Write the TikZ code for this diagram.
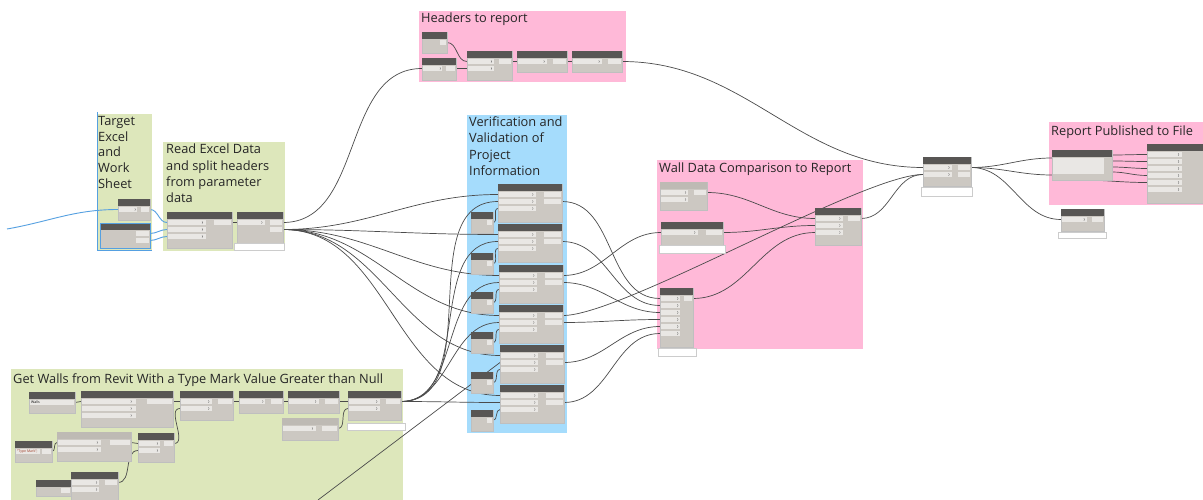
\documentclass[tikz,border=0pt]{standalone}
\usepackage{fontspec}
\setmainfont{Open Sans}
\usetikzlibrary{calc}
\definecolor{gpink}{RGB}{255,185,216}
\definecolor{ggreen}{RGB}{221,231,187}
\definecolor{gblue}{RGB}{165,220,252}
\definecolor{nbody}{RGB}{204,200,194}
\definecolor{nhead}{RGB}{88,86,84}
\definecolor{nlight}{RGB}{190,186,180}
\definecolor{nport}{RGB}{233,231,228}
\definecolor{wirec}{RGB}{75,75,75}
\definecolor{selblue}{RGB}{85,160,225}
\definecolor{codered}{RGB}{160,60,40}
\tikzset{
  title/.style={anchor=base west, inner sep=0pt, font=\fontsize{12.8}{14}\selectfont, text=black!85},
  wire/.style={draw=wirec, line width=0.7pt},
  bwire/.style={draw=selblue, line width=0.9pt},
  prev/.style={draw=black!20, fill=white, line width=0.3pt, inner sep=0pt, anchor=north west},
  nbox/.style={draw=black!25, fill=nbody, line width=0.3pt, inner sep=0pt, outer sep=0pt, anchor=north west},
  tiny/.style={anchor=base west, inner sep=0pt, font=\fontsize{3.5}{4}\selectfont}
}
\newif\ifdyndraw
% \dyn[header colour]{name}{x}{y}{w}{h}{inputs}{outputs}
\newcommand{\dyn}[8][nhead]{%
  \ifdyndraw
  \node[nbox, minimum width=#5pt, minimum height=#6pt] (#2) at (#3,#4) {};
  \fill[#1] (#3,#4) rectangle ({#3+#5},{#4+7});
  \fi
  \ifnum#7>0
  \foreach \i in {1,...,#7}{
    \ifdyndraw
    \fill[nport] ({#3+0.7},{#4+7.6+7*(\i-1)}) rectangle ({#3+0.6*#5},{#4+13.4+7*(\i-1)});
    \draw[black!55, line width=0.3pt] ({#3+0.55*#5-0.8},{#4+9.3+7*(\i-1)}) -- ({#3+0.55*#5},{#4+10.5+7*(\i-1)}) -- ({#3+0.55*#5-0.8},{#4+11.7+7*(\i-1)});
    \fi
    \coordinate (#2-i\i) at (#3,{#4+10.5+7*(\i-1)});
  }
  \fi
  \ifnum#8>0
  \foreach \i in {1,...,#8}{
    \ifdyndraw
    \fill[nport] ({#3+0.72*#5},{#4+7.6+7*(\i-1)}) rectangle ({#3+#5-0.7},{#4+13.4+7*(\i-1)});
    \fi
    \coordinate (#2-o\i) at ({#3+#5},{#4+10.5+7*(\i-1)});
  }
  \fi
}
\newcommand{\allnodes}{%
\dyn{N1}{118}{199}{32}{21}{1}{1}
\dyn{N2}{100}{223}{50}{25}{0}{2}
\dyn{N3}{167}{212}{65}{36}{3}{1}
\dyn{N4}{237}{212}{46}{31}{1}{2}
\dyn{H1}{422}{32}{25}{21}{0}{1}
\dyn{H2}{422}{58}{34}{22}{1}{1}
\dyn{H3}{467}{51}{45}{29}{2}{1}
\dyn{H4}{517}{51}{50}{21}{1}{1}
\dyn{H5}{572}{51}{50}{21}{1}{1}
\dyn{V1}{498}{184}{64}{38}{3}{2}
\dyn{V2}{498}{224}{64}{38}{3}{2}
\dyn{V3}{499}{265}{64}{38}{3}{2}
\dyn{V4}{499}{305}{64}{38}{3}{2}
\dyn{V5}{500}{345}{64}{38}{3}{2}
\dyn{V6}{500}{385}{64}{38}{3}{2}
\dyn{S1}{471}{212}{22}{21}{0}{1}
\dyn{S2}{471}{253}{22}{21}{0}{1}
\dyn{S3}{471}{292}{22}{21}{0}{1}
\dyn{S4}{471}{332}{22}{21}{0}{1}
\dyn{S5}{471}{372}{22}{21}{0}{1}
\dyn{S6}{471}{410}{22}{21}{0}{1}
\dyn[nlight]{W1}{660}{182}{47}{28}{2}{1}
\dyn{W2}{661}{222}{62}{23}{1}{1}
\dyn{W3}{815}{208}{46}{37}{3}{1}
\dyn{W4}{660}{288}{33}{59}{6}{1}
\dyn{R1}{923}{157}{48}{29}{2}{2}
\dyn{R2}{1052}{150}{60}{30}{0}{0}
\dyn{R3}{1147}{144}{58}{59}{6}{0}
\dyn{R4}{1061}{209}{43}{22}{1}{1}
\dyn{G1}{29}{392}{46}{21}{0}{1}
\dyn{G2}{81}{391}{92}{36}{3}{1}
\dyn{G3}{180}{391}{53}{29}{2}{1}
\dyn{G4}{239}{391}{44}{22}{1}{1}
\dyn{G5}{288}{391}{51}{22}{1}{1}
\dyn{G6}{348}{391}{53}{29}{2}{1}
\dyn[nlight]{G7}{282}{418}{56}{22}{1}{1}
\dyn{G8}{15}{441}{37}{21}{0}{1}
\dyn[nlight]{G9}{57}{432}{74}{29}{2}{1}
\dyn{G10}{138}{433}{36}{29}{2}{1}
\dyn{G11}{36}{480}{35}{16}{0}{1}
\dyn{G12}{71}{472}{47}{30}{2}{1}
}
\begin{document}
\begin{tikzpicture}[x=1pt,y=-1pt]
\useasboundingbox (0,0) rectangle (1203,500);
\fill[white] (0,0) rectangle (1203,500);
% ---------- groups ----------
\fill[gpink] (419,11) rectangle (626,82);
\fill[ggreen] (97,114) rectangle (152,250);
\draw[selblue, line width=0.8pt] (97,112) -- (97,250) -- (152,250);
\fill[ggreen] (163,142) rectangle (285,251);
\fill[gblue] (467,115) rectangle (567,433);
\fill[gpink] (657,160) rectangle (863,349);
\fill[gpink] (1049,122) rectangle (1203,205);
\fill[ggreen] (11,369) rectangle (403,500);
% ---------- titles ----------
\node[title] (tH) at (421,23) {Headers to report};
\node[title] (tT1) at (98,126) {Target};
\node[title] (tT2) at (98,142) {Excel};
\node[title] (tT3) at (98,157) {and};
\node[title] (tT4) at (98,173) {Work};
\node[title] (tT5) at (98,189) {Sheet};
\node[title] (tR1) at (166,154) {Read Excel Data};
\node[title] (tR2) at (166,171) {and split headers};
\node[title] (tR3) at (166,187) {from parameter};
\node[title] (tR4) at (166,203) {data};
\node[title] (tV1) at (469,127) {Verification and};
\node[title] (tV2) at (469,143) {Validation of};
\node[title] (tV3) at (469,160) {Project};
\node[title] (tV4) at (469,176) {Information};
\node[title] (tW) at (659,173) {Wall Data Comparison to Report};
\node[title] (tP) at (1051,136) {Report Published to File};
\node[title] (tG) at (13,383) {Get Walls from Revit With a Type Mark Value Greater than Null};
% ---------- port coordinates (first pass, nothing drawn) ----------
\dyndrawfalse
\allnodes
\coordinate (R2-a) at (1052,158);
\coordinate (R2-b) at (1052,175);
\coordinate (R2-o1) at (1112,155);
\coordinate (R2-o2) at (1112,161);
\coordinate (R2-o3) at (1112,167);
\coordinate (R2-o4) at (1112,172);
\coordinate (R2-o5) at (1080,180);
\coordinate (lin) at (7,229);
\coordinate (offb) at (318,500);
% ---------- wires ----------
\draw[bwire] (lin) to[out=10,in=180] (N1-i1);
\draw[bwire] (N1-o1) to[out=0,in=180] (N3-i1);
\draw[bwire] (N2-o1) to[out=0,in=180] (N3-i2);
\draw[bwire] (N2-o2) to[out=0,in=180] (N3-i3);
\draw[wire] (N3-o1) to[out=0,in=180] (N4-i1);
\draw[wire] (N4-o1) to[out=0,in=180] (H2-i1);
\foreach \k in {1,...,6}{
  \draw[wire] (N4-o2) to[out=0,in=180] (V\k-i1);
  \draw[wire] (S\k-o1) to[out=0,in=180] (V\k-i3);
}
\foreach \k in {1,2,3,4,6}{
  \draw[wire] (G6-o1) to[out=0,in=180] (V\k-i2);
}
\draw[wire] (offb) -- (V5-i2);
\draw[wire] (H1-o1) to[out=0,in=180] (H3-i1);
\draw[wire] (H2-o1) to[out=0,in=180] (H3-i2);
\draw[wire] (H3-o1) to[out=0,in=180] (H4-i1);
\draw[wire] (H4-o1) to[out=0,in=180] (H5-i1);
\draw[wire] (H5-o1) to[out=0,in=180] (R1-i1);
\draw[wire] (V1-o2) to[out=0,in=180] (W4-i1);
\draw[wire] (V2-o2) to[out=0,in=180] (W4-i2);
\draw[wire] (V3-o1) to[out=0,in=180] (W2-i1);
\draw[wire] (V3-o2) to[out=0,in=180] (W4-i3);
\draw[wire] (V4-o1) .. controls +(60,0) and +(-60,0) .. (R1-i2);
\draw[wire] (V4-o2) to[out=0,in=180] (W4-i4);
\draw[wire] (V5-o2) to[out=0,in=180] (W4-i5);
\draw[wire] (V6-o2) to[out=0,in=180] (W4-i6);
\draw[wire] (W1-o1) to[out=0,in=180] (W3-i1);
\draw[wire] (W2-o1) to[out=0,in=180] (W3-i2);
\draw[wire] (W4-o1) to[out=0,in=180] (W3-i3);
\draw[wire] (W3-o1) to[out=0,in=180] (R1-i2);
\draw[wire] (R1-o1) to[out=0,in=180] (R2-a);
\draw[wire] (R1-o1) to[out=0,in=180] (R2-b);
\draw[wire] (R1-o1) to[out=0,in=180] (R4-i1);
\draw[wire] (R2-o1) to[out=0,in=180] (R3-i1);
\draw[wire] (R2-o2) to[out=0,in=180] (R3-i2);
\draw[wire] (R2-o3) to[out=0,in=180] (R3-i3);
\draw[wire] (R2-o4) to[out=0,in=180] (R3-i4);
\draw[wire] (R2-o5) to[out=0,in=180] (R3-i5);
\draw[wire] (G1-o1) to[out=0,in=180] (G2-i1);
\draw[wire] (G2-o1) to[out=0,in=180] (G3-i1);
\draw[wire] (G10-o1) to[out=0,in=180] (G3-i2);
\draw[wire] (G3-o1) to[out=0,in=180] (G4-i1);
\draw[wire] (G4-o1) to[out=0,in=180] (G5-i1);
\draw[wire] (G5-o1) to[out=0,in=180] (G6-i1);
\draw[wire] (G7-o1) to[out=0,in=180] (G6-i2);
\draw[wire] (G8-o1) to[out=0,in=180] (G9-i1);
\draw[wire] (G9-o1) to[out=0,in=180] (G10-i1);
\draw[wire] (G12-o1) to[out=0,in=180] (G10-i2);
\draw[wire] (G11-o1) to[out=0,in=180] (G12-i1);
% ---------- nodes (second pass, drawn over the wires) ----------
\dyndrawtrue
\allnodes
\draw[selblue, line width=0.8pt] (N2.north west) rectangle (N2.south east);
\fill[nport] (1053,158) rectangle (1104,174);
\fill[nport] (30,399.6) rectangle (62,405.4);
\node[tiny] (G1t) at (31,403) {Walls};
\fill[nport] (16,448.6) rectangle (40,454.4);
\node[tiny, text=codered] (G8t) at (17,452.5) {"Type Mark";};
\node[prev, minimum width=50pt, minimum height=7pt] (N4p) at (234,243) {};
\node[prev, minimum width=66pt, minimum height=8pt] (W2p) at (659,245) {};
\node[prev, minimum width=38pt, minimum height=8pt] (W4p) at (658,348) {};
\node[prev, minimum width=51pt, minimum height=9pt] (R1p) at (921,187) {};
\node[prev, minimum width=48pt, minimum height=6pt] (R4p) at (1058,232) {};
\node[prev, minimum width=58pt, minimum height=7pt] (G6p) at (347,423) {};
\end{tikzpicture}
\end{document}
